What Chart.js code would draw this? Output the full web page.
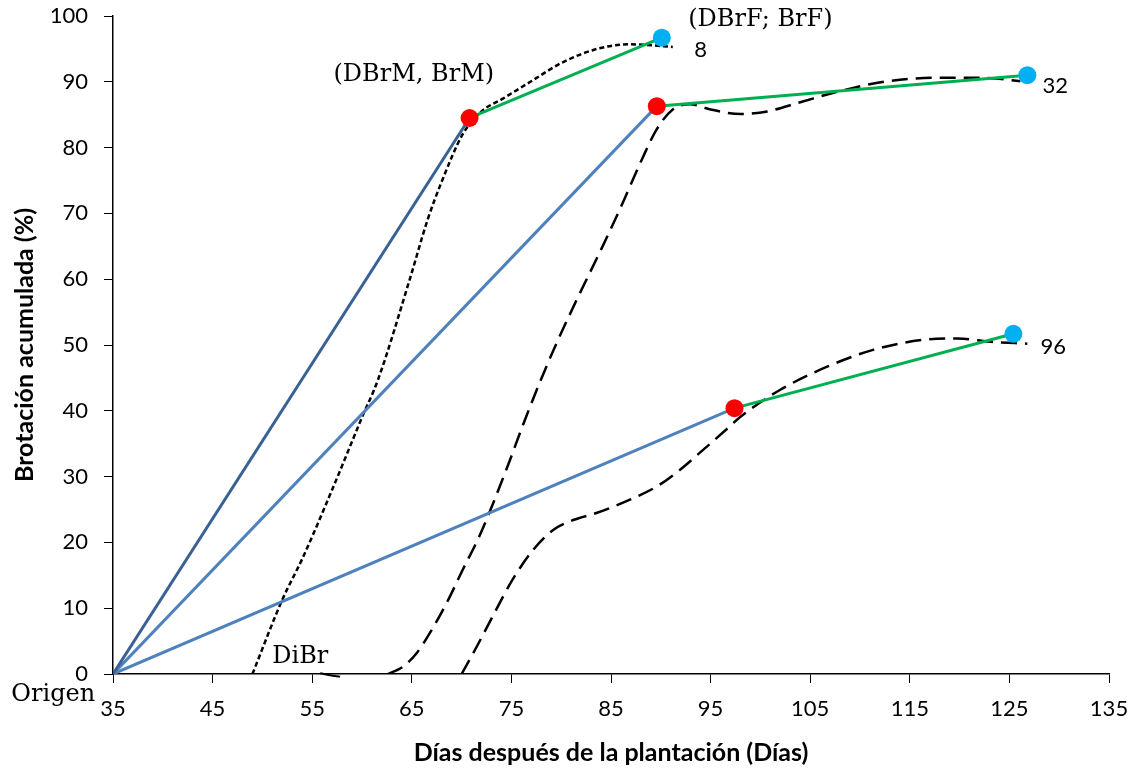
<!DOCTYPE html>
<html>
<head>
<meta charset="utf-8">
<script src="https://cdn.jsdelivr.net/npm/chart.js@4.4.1/dist/chart.umd.min.js"></script>
<style>
  html, body { margin: 0; padding: 0; background: #fff; }
  canvas { display: block; }
</style>
</head>
<body>
<canvas id="chart" width="1145" height="768"></canvas>
<script>
// Origin of the three straight lines
const originDay = 35;
const originValue = 0;

// Maximum sprouting points (DBrM, BrM) for densities 8, 32, 96
const maxDays = [70.8, 89.6, 97.4];
const maxValues = [84.5, 86.3, 40.4];

// Final sprouting points (DBrF; BrF)
const finalDays = [90.1, 126.8, 125.4];
const finalValues = [96.7, 91.0, 51.7];

// Observed cumulative sprouting curves
const curve8Days = [49.0, 52.0, 54.0, 57.0, 60.0, 61.6, 64.8, 66.6, 68.1, 70.1, 72.0, 74.1, 76.9, 80.2, 83.6, 86.9, 91.2];
const curve8Values = [0, 11.3, 17.5, 28.0, 39.0, 44.7, 60.0, 69.1, 75.2, 82.0, 85.5, 87.4, 90.0, 93.0, 95.0, 95.7, 95.3];

const curve32Days = [62.6, 64.1, 65.5, 66.8, 68.5, 70.1, 71.8, 74.6, 76.2, 77.9, 79.6, 81.6, 84.0, 86.0, 88.1, 89.6, 91.2, 92.9, 95.0, 98.0, 100.7, 104.0, 108.0, 112.4, 117.4, 122.4, 126.1];
const curve32Values = [0, 1.1, 3.2, 6.2, 10.8, 15.8, 21.0, 31.5, 38.0, 44.5, 50.5, 57.0, 64.5, 71.0, 78.2, 82.8, 85.8, 86.6, 85.8, 85.1, 85.5, 86.9, 88.6, 90.0, 90.6, 90.6, 90.1];

const curve96Days = [70.0, 71.5, 73.1, 75.1, 77.2, 79.2, 81.2, 83.6, 86.9, 89.6, 91.9, 93.9, 96.9, 98.0, 102.0, 106.7, 111.4, 116.4, 119.8, 123.1, 126.8];
const curve96Values = [0, 4.1, 8.7, 14.3, 18.9, 21.9, 23.4, 24.5, 26.5, 28.5, 31.0, 33.6, 37.6, 39.1, 43.2, 46.7, 49.3, 50.8, 51.0, 50.5, 50.2];

// small stroke next to DiBr, just under the axis
const dibrDays = [55.8, 56.8, 57.8];
const dibrValues = [0.1, -0.2, -0.4];

// Axis
const xMin = 35, xMax = 135, xStep = 10;
const yMin = 0, yMax = 100, yStep = 10;

// Text labels placed in data coordinates
const noteTexts = ['(DBrM, BrM)', '(DBrF; BrF)', '8', '32', '96', 'DiBr', 'Origen'];
const noteDays = [65.2, 100.0, 94.0, 129.6, 129.4, 53.8, 29.0];
const noteValues = [91.0, 99.4, 94.8, 89.4, 49.7, 2.6, -3.2];
const noteSerif = [true, true, false, false, false, true, true];

const toPoints = (xs, ys) => xs.map((x, i) => ({ x, y: ys[i] }));

const lineColors = ['#3a6193', '#4f81bd', '#4f81bd'];

const datasets = [];

// red and blue markers on top
datasets.push({
  data: toPoints(maxDays, maxValues),
  showLine: false,
  pointRadius: 9,
  pointBackgroundColor: '#ff0000',
  pointBorderWidth: 0,
  order: 0
});
datasets.push({
  data: toPoints(finalDays, finalValues),
  showLine: false,
  pointRadius: 9,
  pointBackgroundColor: '#00b0f0',
  pointBorderWidth: 0,
  order: 0
});

// straight lines from origin and to final point
maxDays.forEach((d, i) => {
  datasets.push({
    data: [{ x: originDay, y: originValue }, { x: d, y: maxValues[i] }],
    showLine: true,
    borderColor: lineColors[i],
    borderWidth: 3,
    pointRadius: 0,
    order: 1
  });
  datasets.push({
    data: [{ x: d, y: maxValues[i] }, { x: finalDays[i], y: finalValues[i] }],
    showLine: true,
    borderColor: '#00b050',
    borderWidth: 3,
    pointRadius: 0,
    order: 1
  });
});

// observed curves
datasets.push({
  data: toPoints(curve8Days, curve8Values),
  showLine: true,
  borderColor: '#000',
  borderWidth: 2.5,
  borderDash: [5, 3],
  cubicInterpolationMode: 'monotone',
  pointRadius: 0,
  order: 2
});
[[curve32Days, curve32Values], [curve96Days, curve96Values]].forEach(([xs, ys]) => {
  datasets.push({
    data: toPoints(xs, ys),
    showLine: true,
    borderColor: '#000',
    borderWidth: 2.5,
    borderDash: [16, 8],
    cubicInterpolationMode: 'monotone',
    pointRadius: 0,
    order: 2
  });
});
datasets.push({
  data: toPoints(dibrDays, dibrValues),
  showLine: true,
  borderColor: '#000',
  borderWidth: 2,
  tension: 0.4,
  pointRadius: 0,
  clip: false,
  order: 2
});

const notesPlugin = {
  id: 'notes',
  afterDraw(chart) {
    const { ctx, scales: { x, y } } = chart;
    ctx.save();
    ctx.fillStyle = '#000';
    ctx.textAlign = 'center';
    ctx.textBaseline = 'middle';
    noteTexts.forEach((t, i) => {
      ctx.font = noteSerif[i] ? '24px "DejaVu Serif"' : '22px Lato';
      ctx.fillText(t, x.getPixelForValue(noteDays[i]), y.getPixelForValue(noteValues[i]));
    });
    ctx.restore();
  }
};

new Chart(document.getElementById('chart'), {
  type: 'scatter',
  data: { datasets },
  plugins: [notesPlugin],
  options: {
    responsive: false,
    animation: false,
    layout: { padding: { top: 16, right: 36, bottom: 0, left: 0 } },
    plugins: {
      legend: { display: false },
      tooltip: { enabled: false }
    },
    scales: {
      x: {
        type: 'linear',
        min: xMin,
        max: xMax,
        afterFit: s => { s.height = 94; s.paddingLeft = 0; s.paddingRight = 0; },
        border: { color: '#000', width: 1.5 },
        grid: { drawOnChartArea: false, tickLength: 9, color: '#000' },
        ticks: { stepSize: xStep, color: '#000', padding: 13, font: { family: 'Lato', size: 22 } },
        title: {
          display: true,
          text: 'Días después de la plantación (Días)',
          color: '#000',
          font: { family: 'Lato', size: 25, weight: 'bold' },
          padding: { top: 0, bottom: 0 }
        }
      },
      y: {
        min: yMin,
        max: yMax,
        afterFit: s => { s.width = 113; s.paddingTop = 0; s.paddingBottom = 0; },
        border: { color: '#000', width: 1.5 },
        grid: { drawOnChartArea: false, tickLength: 9, color: '#000' },
        ticks: { stepSize: yStep, color: '#000', padding: 16, font: { family: 'Lato', size: 22 } },
        title: {
          display: true,
          text: 'Brotación acumulada (%)',
          color: '#000',
          font: { family: 'Lato', size: 25, weight: 'bold' },
          padding: { top: 10, bottom: 0 }
        }
      }
    }
  }
});
</script>
</body>
</html>
